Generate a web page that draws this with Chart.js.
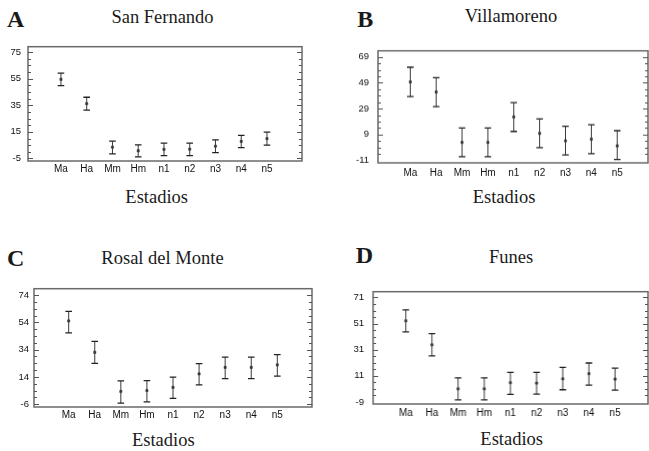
<!DOCTYPE html>
<html>
<head>
<meta charset="utf-8">
<script src="https://cdn.jsdelivr.net/npm/chart.js@4.4.1/dist/chart.umd.min.js"></script>
<style>
    html, body { margin: 0; padding: 0; background: #fff; }
    body { width: 649px; height: 451px; overflow: hidden; position: relative; }
    canvas { position: absolute; }
    .txt { position: absolute; white-space: nowrap; font-family: "Liberation Serif", "Times New Roman", serif; color: #1a1a1a; }
    .letter { font-size: 24px; line-height: 24px; font-weight: bold; }
    .ttl { font-size: 18.5px; line-height: 18.5px; transform: translateX(-50%); }
</style>
</head>
<body>

<script>
// Estadios (x categories)
const stages = ['Ma', 'Ha', 'Mm', 'Hm', 'n1', 'n2', 'n3', 'n4', 'n5'];

// San Fernando
const meanA = [54.5, 36.2, 3.5, 0.8, 1.9, 2.0, 4.2, 7.8, 9.9];
const lowA  = [49.7, 31.3, -1.5, -3.8, -2.9, -2.9, -0.6, 3.1, 5.0];
const highA = [59.2, 41.0, 8.0, 5.2, 6.6, 6.6, 9.0, 12.4, 14.8];
const ticksA = [-5, 15, 35, 55, 75];

// Villamoreno
const meanB = [49.7, 41.9, 2.9, 2.9, 22.6, 9.9, 4.2, 5.4, 0.3];
const lowB  = [38.4, 30.5, -8.2, -8.2, 11.4, -1.1, -6.8, -5.8, -10.3];
const highB = [61.0, 52.9, 14.0, 14.0, 33.7, 21.0, 15.4, 16.6, 12.0];
const ticksB = [-11, 9, 29, 49, 69];

// Rosal del Monte
const meanC = [55.1, 32.1, 3.3, 4.0, 6.3, 16.2, 21.0, 21.0, 22.8];
const lowC  = [46.4, 24.0, -5.3, -4.3, -1.8, 8.1, 12.7, 12.7, 14.6];
const highC = [62.2, 40.1, 11.1, 11.3, 13.9, 23.8, 28.6, 28.6, 30.4];
const ticksC = [-6, 14, 34, 54, 74];

// Funes
const meanD = [53.1, 34.7, 1.0, 1.0, 5.7, 5.4, 8.7, 12.6, 8.5];
const lowD  = [44.7, 26.3, -7.4, -7.4, -3.2, -3.0, 0.3, 3.8, 0.0];
const highD = [61.5, 43.3, 9.4, 9.4, 13.6, 13.6, 17.5, 20.8, 16.8];
const ticksD = [-9, 11, 31, 51, 71];

// frame around the plot + small inside ticks on left and right
const framePlugin = {
    id: 'frame',
    afterDraw(chart, args, opts) {
        const c = chart.ctx, a = chart.chartArea, y = chart.scales.y;
        c.save();
        c.strokeStyle = '#6a6a6a';
        c.lineWidth = 1.5;
        c.strokeRect(a.left, a.top, a.right - a.left, a.bottom - a.top);
        c.lineWidth = 1;
        c.strokeStyle = '#555';
        const start = opts.ticks[0];
        for (let v = start; v <= y.max; v += 5) {
            const py = Math.round(y.getPixelForValue(v)) + 0.5;
            if (py < a.top + 2 || py > a.bottom - 2) continue;
            const len = ((v - start) % 20 === 0) ? 5 : 3;
            c.beginPath();
            c.moveTo(a.left, py); c.lineTo(a.left + len, py);
            c.moveTo(a.right, py); c.lineTo(a.right - len, py);
            c.stroke();
        }
        c.restore();
    }
};

function makePanel(p) {
    const yw = 30;
    const w = yw + (p.box.r - p.box.l) + 6;
    const h = 4 + (p.box.b - p.box.t) + 22;
    const cv = document.createElement('canvas');
    cv.width = w; cv.height = h;
    cv.style.width = w + 'px'; cv.style.height = h + 'px';
    cv.style.left = (p.box.l - yw) + 'px';
    cv.style.top = (p.box.t - 4) + 'px';
    document.body.appendChild(cv);

    // error bars: low -> high segments, broken by null points
    const bars = [];
    stages.forEach((s, i) => {
        bars.push({ x: i + 1, y: p.low[i] });
        bars.push({ x: i + 1, y: p.high[i] });
        bars.push({ x: i + 1, y: null });
    });
    const means = stages.map((s, i) => ({ x: i + 1, y: p.mean[i] }));

    new Chart(cv.getContext('2d'), {
        type: 'scatter',
        data: {
            datasets: [{
                data: bars,
                showLine: true,
                spanGaps: false,
                borderColor: '#3a3a3a',
                borderWidth: 1,
                pointStyle: 'line',
                pointRadius: 3.3,
                pointBorderColor: '#222',
                pointBorderWidth: 1.3
            }, {
                data: means,
                pointStyle: 'rect',
                pointRadius: 1.6,
                pointBackgroundColor: '#333',
                pointBorderColor: '#333',
                pointBorderWidth: 0.5
            }]
        },
        options: {
            responsive: false,
            animation: false,
            events: [],
            layout: { padding: { top: 4, right: 6, left: 0, bottom: 0 } },
            plugins: {
                legend: { display: false },
                tooltip: { enabled: false },
                frame: { ticks: p.yTicks }
            },
            scales: {
                x: {
                    type: 'linear',
                    min: p.xMin, max: p.xMax,
                    grid: { display: false, drawTicks: false },
                    border: { display: false },
                    afterBuildTicks: (s) => { s.ticks = stages.map((st, i) => ({ value: i + 1 })); },
                    afterFit: (s) => { s.height = 22; },
                    ticks: {
                        autoSkip: false,
                        maxRotation: 0,
                        padding: p.xPad,
                        color: '#111',
                        font: { family: 'Liberation Sans', size: 10 },
                        callback: (v) => stages[Math.round(v) - 1] || ''
                    }
                },
                y: {
                    min: p.yMin, max: p.yMax,
                    grid: { display: false, drawTicks: false },
                    border: { display: false },
                    afterBuildTicks: (s) => { s.ticks = p.yTicks.map(v => ({ value: v })); },
                    afterFit: (s) => { s.width = yw; },
                    ticks: {
                        padding: p.yPad,
                        color: '#111',
                        font: { family: 'Liberation Sans', size: 9.5 }
                    }
                }
            }
        },
        plugins: [framePlugin]
    });
}

makePanel({ mean: meanA, low: lowA, high: highA, yTicks: ticksA,
    box: { l: 28, t: 38, r: 302, b: 161 }, yMin: -6.9, yMax: 79, xMin: -0.28, xMax: 10.36, xPad: 2.5, yPad: 7 });
makePanel({ mean: meanB, low: lowB, high: highB, yTicks: ticksB,
    box: { l: 377.7, t: 40, r: 648, b: 162.7 }, yMin: -12.9, yMax: 73.7, xMin: -0.25, xMax: 10.19, xPad: 4.5, yPad: 9 });
makePanel({ mean: meanC, low: lowC, high: highC, yTicks: ticksC,
    box: { l: 34.3, t: 281.7, r: 312.3, b: 407.3 }, yMin: -8.1, yMax: 78.8, xMin: -0.33, xMax: 10.33, xPad: 2.7, yPad: 5 });
makePanel({ mean: meanD, low: lowD, high: highD, yTicks: ticksD,
    box: { l: 373.3, t: 281, r: 648, b: 404.3 }, yMin: -10.6, yMax: 75.4, xMin: -0.25, xMax: 10.26, xPad: 3, yPad: 9 });

// panel letters, titles and axis names
const labels = [
    ['letter', 'A', 7, 6.6], ['ttl', 'San Fernando', 162.5, 7.5], ['ttl', 'Estadios', 156.7, 187.5],
    ['letter', 'B', 357.3, 6.6], ['ttl', 'Villamoreno', 511, 7.2], ['ttl', 'Estadios', 504, 187.5],
    ['letter', 'C', 7, 245.6], ['ttl', 'Rosal del Monte', 162.5, 248.5], ['ttl', 'Estadios', 163.3, 431.2],
    ['letter', 'D', 355.7, 243.2], ['ttl', 'Funes', 511, 247.8], ['ttl', 'Estadios', 511.7, 429.5]
];
labels.forEach(([cls, text, x, y]) => {
    const d = document.createElement('div');
    d.className = 'txt ' + cls;
    d.textContent = text;
    d.style.left = x + 'px';
    d.style.top = y + 'px';
    document.body.appendChild(d);
});
</script>
</body>
</html>
